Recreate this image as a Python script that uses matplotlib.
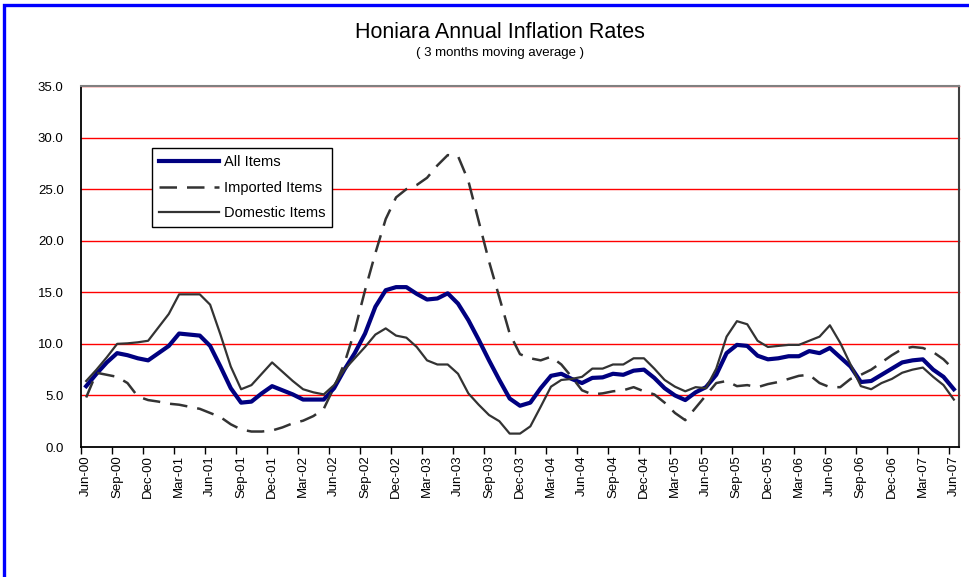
import matplotlib
matplotlib.use('Agg')
import matplotlib.pyplot as plt
from matplotlib.patches import Rectangle
import numpy as np

plt.rcParams['font.family'] = ['Liberation Sans', 'DejaVu Sans']

tick_labels = ["Jun-00", "Sep-00", "Dec-00", "Mar-01", "Jun-01", "Sep-01", "Dec-01",
               "Mar-02", "Jun-02", "Sep-02", "Dec-02", "Mar-03", "Jun-03", "Sep-03",
               "Dec-03", "Mar-04", "Jun-04", "Sep-04", "Dec-04", "Mar-05", "Jun-05",
               "Sep-05", "Dec-05", "Mar-06", "Jun-06", "Sep-06", "Dec-06", "Mar-07",
               "Jun-07"]

all_items = [5.9, 7.1, 8.2, 9.1, 8.9, 8.6, 8.4, 9.1, 9.8, 11.0,
             10.9, 10.8, 9.8, 7.8, 5.7, 4.3, 4.4, 5.2, 5.9, 5.5,
             5.1, 4.6, 4.6, 4.6, 5.7, 7.5, 9.1, 11.0, 13.6, 15.2,
             15.5, 15.5, 14.85, 14.3, 14.4, 14.9, 13.9, 12.3, 10.4, 8.4,
             6.5, 4.7, 4.0, 4.3, 5.7, 6.9, 7.1, 6.6, 6.2, 6.7,
             6.75, 7.1, 7.0, 7.4, 7.5, 6.7, 5.7, 5.0, 4.55, 5.3,
             5.8, 7.0, 9.1, 9.9, 9.8, 8.85, 8.5, 8.6, 8.8, 8.8,
             9.3, 9.1, 9.6, 8.7, 7.8, 6.3, 6.4, 7.0, 7.6, 8.2,
             8.4, 8.5, 7.5, 6.8, 5.6]

imported_items = [4.8, 7.2, 7.0, 6.8, 6.2, 4.9, 4.55, 4.4, 4.2, 4.1,
                  3.9, 3.7, 3.3, 2.9, 2.2, 1.7, 1.5, 1.5, 1.6, 1.9,
                  2.3, 2.55, 3.0, 3.7, 5.8, 8.1, 11.3, 15.2, 18.8, 22.1,
                  24.2, 25.0, 25.4, 26.1, 27.3, 28.3, 28.2, 25.8, 21.9, 18.0,
                  14.5, 11.0, 9.0, 8.6, 8.4, 8.75, 8.0, 6.8, 5.5, 5.1,
                  5.2, 5.4, 5.5, 5.8, 5.4, 5.1, 4.3, 3.3, 2.6, 3.8,
                  5.0, 6.2, 6.4, 5.9, 6.0, 5.8, 6.1, 6.3, 6.6, 6.9,
                  7.0, 6.2, 5.8, 5.8, 6.6, 7.0, 7.5, 8.2, 8.9, 9.5,
                  9.7, 9.6, 9.2, 8.5, 7.5]

domestic_items = [6.4, 7.5, 8.7, 10.0, 10.05, 10.15, 10.3, 11.6, 12.9, 14.8,
                  14.8, 14.8, 13.8, 10.9, 7.8, 5.6, 6.0, 7.1, 8.2, 7.3,
                  6.4, 5.6, 5.3, 5.1, 6.0, 7.5, 8.6, 9.7, 10.9, 11.5,
                  10.8, 10.6, 9.7, 8.4, 8.0, 8.0, 7.1, 5.2, 4.1, 3.1,
                  2.5, 1.3, 1.3, 2.0, 3.9, 5.85, 6.5, 6.6, 6.8, 7.6,
                  7.6, 8.0, 8.0, 8.6, 8.6, 7.6, 6.5, 5.85, 5.4, 5.8,
                  5.7, 7.6, 10.7, 12.2, 11.9, 10.3, 9.7, 9.8, 9.9, 9.9,
                  10.3, 10.7, 11.8, 10.1, 8.0, 5.9, 5.6, 6.2, 6.6, 7.2,
                  7.5, 7.7, 6.8, 6.0, 4.6]

n = len(all_items)
x = np.arange(n) + 0.5

W, H = 970, 577
fig = plt.figure(figsize=(W / 100, H / 100), dpi=100)
fig.patch.set_facecolor('white')

# blue outer frame
fig.patches.append(Rectangle((4.5 / W, -0.05), 1.1, 1 - 4.5 / H + 0.05,
                             transform=fig.transFigure, fill=False,
                             edgecolor='#0000FF', linewidth=2.4, clip_on=False))

ax = fig.add_axes([81 / W, 1 - 447 / H, 878 / W, 361 / H])

ax.set_xlim(0, n)
ax.set_ylim(0, 35)

# grid
for v in range(5, 36, 5):
    ax.axhline(v, color='#FF0000', linewidth=1.0, zorder=1, clip_on=False)

ax.plot(x, all_items, color='#000080', linewidth=3.0, label='All Items',
        zorder=3, solid_joinstyle='round')
ax.plot(x, imported_items, color='#333333', linewidth=1.8, linestyle=(0, (7, 4)),
        label='Imported Items', zorder=3)
ax.plot(x, domestic_items, color='#333333', linewidth=1.6, label='Domestic Items',
        zorder=3)

# y axis
ax.set_yticks(np.arange(0, 36, 5))
ax.set_yticklabels([f"{v:.1f}" for v in np.arange(0, 36, 5)], fontsize=9.5)
ax.tick_params(axis='y', length=0, pad=12.5)

# x axis: boundary ticks every 3 months, labels centred on categories
tick_pos = np.arange(0, n, 3)
ax.set_xticks(tick_pos + 0.5)
ax.set_xticklabels(tick_labels, rotation=90, fontsize=9.5)
ax.tick_params(axis='x', which='major', length=0, pad=6)
ax.set_xticks(tick_pos, minor=True)
ax.tick_params(axis='x', which='minor', length=5, width=1, direction='out')

for s in ['left', 'bottom']:
    ax.spines[s].set_color('black')
    ax.spines[s].set_linewidth(1.3)
ax.spines['right'].set_color('#404040')
ax.spines['right'].set_linewidth(1.5)
ax.spines['top'].set_color('#808080')
ax.spines['top'].set_linewidth(1.5)

leg = ax.legend(loc='upper left', bbox_to_anchor=(0.0812, 0.827), borderaxespad=0,
                fontsize=10.5, handlelength=4.1, handletextpad=0.35, labelspacing=0.8,
                borderpad=0.45, frameon=True, fancybox=False, framealpha=1,
                edgecolor='black')
leg.get_frame().set_linewidth(1.0)
leg.set_zorder(5)

fig.text(500 / W, 1 - 32 / H, "Honiara Annual Inflation Rates", ha='center',
         va='center', fontsize=15.5)
fig.text(500 / W, 1 - 53 / H, "( 3 months moving average )", ha='center',
         va='center', fontsize=9.5)

fig.savefig('out.png', dpi=100)
